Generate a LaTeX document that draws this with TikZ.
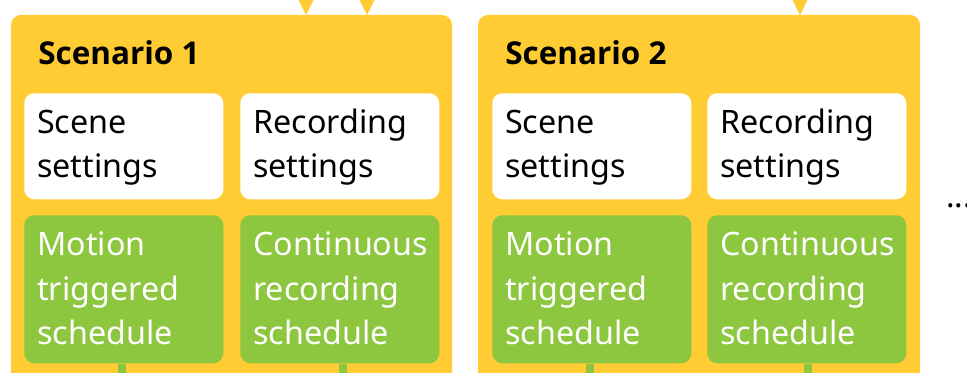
\documentclass[tikz,border=0pt]{standalone}
\usepackage{fontspec}
\setmainfont{Noto Sans}
\newfontfamily\ttlfont{Open Sans}
\usetikzlibrary{calc}
\definecolor{scyellow}{HTML}{FFCC33}
\definecolor{scgreen}{HTML}{8DC63F}
\begin{document}
\begin{tikzpicture}[x=0.75pt,y=-0.75pt,
  scen/.style={fill=scyellow, rounded corners=7.5pt, draw=none},
  wbox/.style={fill=white, rounded corners=7.5pt, draw=none, anchor=north west, minimum width=149.25pt, minimum height=79.5pt, inner sep=0pt},
  gbox/.style={fill=scgreen, rounded corners=7.5pt, draw=none, anchor=north west, minimum width=149.25pt, minimum height=111pt, inner sep=0pt},
  btxt/.style={anchor=base west, inner sep=0pt, align=left, font=\fontsize{24.2}{33.6}\selectfont, text=black},
  gtxt/.style={btxt, text=white},
  ttl/.style={anchor=base west, inner sep=0pt, font=\ttlfont\fontsize{23.6}{28}\selectfont\bfseries, text=black},
  link/.style={draw=scgreen, line width=6pt}
]
\useasboundingbox (0,0) rectangle (967,373);
% scenario frames
\path[scen] (11,15) rectangle (452,400);
\path[scen] (478,15) rectangle (920,400);
\coordinate (t1) at (306,15);
\coordinate (t2) at (367,15);
\coordinate (t3) at (800,15);
\foreach \t in {t1,t2,t3}{
  \fill[scyellow] ($(\t)+(-8,-16)$) -- ($(\t)+(8,-16)$) -- (\t) -- cycle;
}
\node[ttl] (n1) at (38,65) {Scenario 1};
\node[ttl] (n2) at (505,65) {Scenario 2};
% white boxes
\node[wbox] (w1) at (24,93) {};
\node[wbox] (w2) at (240,93) {};
\node[wbox] (w3) at (492,93) {};
\node[wbox] (w4) at (707,93) {};
\node[btxt] (wt1) at ($(w1.north west)+(13,85)$) {Scene\\settings};
\node[btxt] (wt2) at ($(w2.north west)+(13,85)$) {Recording\\settings};
\node[btxt] (wt3) at ($(w3.north west)+(13,85)$) {Scene\\settings};
\node[btxt] (wt4) at ($(w4.north west)+(13,85)$) {Recording\\settings};
% green boxes
\node[gbox] (g1) at (24,215) {};
\node[gbox] (g2) at (240,215) {};
\node[gbox] (g3) at (492,215) {};
\node[gbox] (g4) at (707,215) {};
\node[gtxt] (gt1) at ($(g1.north west)+(13,130)$) {Motion\\triggered\\schedule};
\node[gtxt] (gt2) at ($(g2.north west)+(13,130)$) {Continuous\\recording\\schedule};
\node[gtxt] (gt3) at ($(g3.north west)+(13,130)$) {Motion\\triggered\\schedule};
\node[gtxt] (gt4) at ($(g4.north west)+(13,130)$) {Continuous\\recording\\schedule};
% links down
\coordinate (b1) at (122,380);
\coordinate (b2) at (343,380);
\coordinate (b3) at (590,380);
\coordinate (b4) at (808,380);
\draw[link] (g1.south -| b1) -- (b1);
\draw[link] (g2.south -| b2) -- (b2);
\draw[link] (g3.south -| b3) -- (b3);
\draw[link] (g4.south -| b4) -- (b4);
\node[anchor=base west, inner sep=0pt, font=\fontsize{24}{28}\selectfont] (dots) at (946,208) {...};
\end{tikzpicture}
\end{document}
